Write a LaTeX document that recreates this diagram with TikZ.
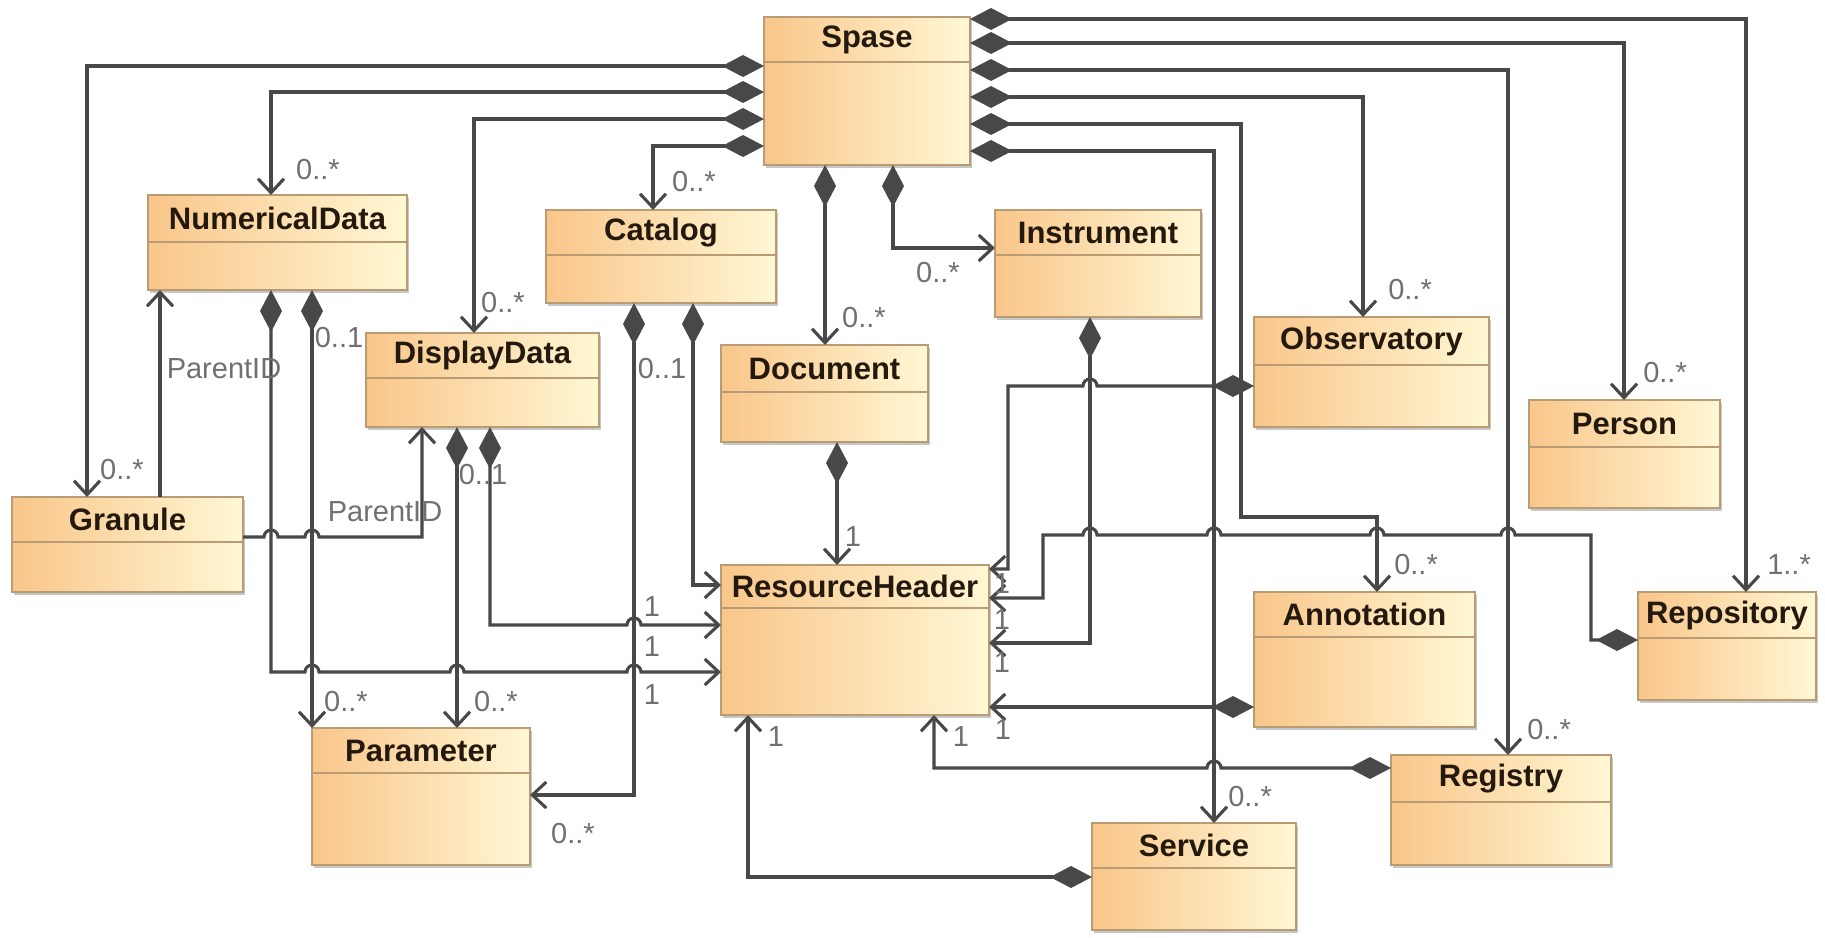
\documentclass[tikz,border=0pt]{standalone}
\usepackage{fontspec}
\setmainfont{Liberation Sans}
\usetikzlibrary{arrows.meta,shadows}

\definecolor{boxL}{RGB}{249,198,138}
\definecolor{boxR}{RGB}{255,247,212}
\definecolor{boxEdge}{RGB}{186,156,116}
\definecolor{wire}{RGB}{72,72,72}
\definecolor{multc}{RGB}{112,112,112}
\definecolor{titlec}{RGB}{36,25,14}

% hop over a vertical wire at x=#1 on a horizontal run at y=#2
\newcommand\hopr[2]{-- ({#1-7},#2) arc[start angle=180,end angle=360,radius=7]}
\newcommand\hopl[2]{-- ({#1+7},#2) arc[start angle=0,end angle=-180,radius=7]}

% class box: name, x1, y1, x2, y2, divider y, title
\newcommand\umlclass[7]{%
  \node[classbox, minimum width={(#4-#2)*1pt}, minimum height={(#5-#3)*1pt}] (#1) at (#2,#3) {};
  \draw[boxEdge, line width=1.3pt] (#1.west |- 0,#6) -- (#1.east |- 0,#6);
  \node[classtitle] (#1-title) at ({(#2+#4)/2},{(#3+#6)/2}) {#7};
}
% multiplicity / role label
\newcommand\multlabel[4]{\node[mult] (#1) at (#2,#3) {#4};}

\begin{document}
\begin{tikzpicture}[x=1pt,y=-1pt,
  classbox/.style={rectangle, draw=boxEdge, line width=1.5pt,
    left color=boxL, right color=boxR, anchor=north west,
    inner sep=0pt, outer sep=0pt,
    drop shadow={shadow xshift=2pt,shadow yshift=-2.5pt,fill=black,opacity=0.22}},
  classtitle/.style={font=\fontsize{31}{36}\selectfont\bfseries, text=titlec, inner sep=0pt},
  mult/.style={font=\fontsize{29}{32}\selectfont, text=multc, inner sep=0pt},
  wireline/.style={draw=wire, line width=3.1pt, line join=miter},
  comp/.style={wireline, {Diamond[length=42pt,width=22pt]}-{Straight Barb[length=14pt,width=26pt]}},
  assoc/.style={wireline, -{Straight Barb[length=14pt,width=26pt]}}
]
\fill[white] (0,0) rectangle (1825,937);
\useasboundingbox (0,0) rectangle (1825,937);

% classes
\umlclass{spase}{764}{17}{970}{165}{62}{Spase}
\umlclass{numdata}{148}{195}{407}{290}{242}{NumericalData}
\umlclass{catalog}{546}{210}{776}{303}{255}{Catalog}
\umlclass{instrument}{995}{210}{1201}{317}{255}{Instrument}
\umlclass{display}{366}{333}{599}{427}{378}{DisplayData}
\umlclass{document}{721}{345}{928}{442}{392}{Document}
\umlclass{observatory}{1254}{317}{1489}{427}{365}{Observatory}
\umlclass{person}{1529}{400}{1720}{508}{447}{Person}
\umlclass{granule}{12}{497}{243}{592}{542}{Granule}
\umlclass{resource}{721}{565}{989}{715}{608}{ResourceHeader}
\umlclass{annotation}{1254}{592}{1475}{727}{637}{Annotation}
\umlclass{repository}{1638}{592}{1816}{700}{638}{Repository}
\umlclass{parameter}{312}{728}{530}{865}{773}{Parameter}
\umlclass{registry}{1391}{755}{1611}{865}{802}{Registry}
\umlclass{service}{1092}{823}{1296}{930}{868}{Service}

% Spase, left side
\draw[comp] (spase.west |- 0,66) -- (87,66) -- (granule.north -| 87,0);
\draw[comp] (spase.west |- 0,92) -- (271,92) -- (numdata.north -| 271,0);
\draw[comp] (spase.west |- 0,119) -- (474,119) -- (display.north -| 474,0);
\draw[comp] (spase.west |- 0,146) -- (653,146) -- (catalog.north -| 653,0);

% Spase, right side
\draw[comp] (spase.east |- 0,19) -- (1746,19) -- (repository.north -| 1746,0);
\draw[comp] (spase.east |- 0,43) -- (1624,43) -- (person.north -| 1624,0);
\draw[comp] (spase.east |- 0,70) -- (1508,70) -- (registry.north -| 1508,0);
\draw[comp] (spase.east |- 0,97) -- (1363,97) -- (observatory.north -| 1363,0);
\draw[comp] (spase.east |- 0,124) -- (1241,124) -- (1241,517) -- (1377,517) -- (annotation.north -| 1377,0);
\draw[comp] (spase.east |- 0,151) -- (1214,151) -- (service.north -| 1214,0);

% Spase, bottom
\draw[comp] (spase.south -| 825,0) -- (document.north -| 825,0);
\draw[comp] (spase.south -| 893,0) -- (893,248) -- (instrument.west |- 0,248);

% NumericalData
\draw[comp] (numdata.south -| 271,0) -- (271,672) \hopr{312}{672} \hopr{457}{672} \hopr{634}{672} -- (resource.west |- 0,672);
\draw[comp] (numdata.south -| 312,0) -- (parameter.north -| 312,0);

% Granule
\draw[assoc] (granule.north -| 160,0) -- (numdata.south -| 160,0);
\draw[assoc] (granule.east |- 0,537) \hopr{271}{537} \hopr{312}{537} -- (422,537) -- (display.south -| 422,0);

% DisplayData
\draw[comp] (display.south -| 457,0) -- (parameter.north -| 457,0);
\draw[comp] (display.south -| 490,0) -- (490,625) \hopr{634}{625} -- (resource.west |- 0,625);

% Catalog
\draw[comp] (catalog.south -| 634,0) -- (634,795) -- (parameter.east |- 0,795);
\draw[comp] (catalog.south -| 693,0) -- (693,585) -- (resource.west |- 0,585);

% Document
\draw[comp] (document.south -| 837,0) -- (resource.north -| 837,0);

% Instrument
\draw[comp] (instrument.south -| 1090,0) -- (1090,643) -- (resource.east |- 0,643);

% Observatory
\draw[comp] (observatory.west |- 0,386) \hopl{1090}{386} -- (1008,386) -- (1008,569) -- (resource.east |- 0,569);

% Repository
\draw[comp] (repository.west |- 0,640) -- (1591,640) -- (1591,535) \hopl{1508}{535} \hopl{1377}{535} \hopl{1214}{535} \hopl{1090}{535} -- (1043,535) -- (1043,598) -- (resource.east |- 0,598);

% Annotation
\draw[comp] (annotation.west |- 0,707) -- (resource.east |- 0,707);

% Registry
\draw[comp] (registry.west |- 0,768) \hopl{1214}{768} -- (934,768) -- (resource.south -| 934,0);

% Service
\draw[comp] (service.west |- 0,877) -- (748,877) -- (resource.south -| 748,0);

% multiplicities and roles
\multlabel{mGranule}{122}{470}{0..*}
\multlabel{mNum}{318}{170}{0..*}
\multlabel{mDisp}{503}{303}{0..*}
\multlabel{mCat}{694}{182}{0..*}
\multlabel{mDoc}{864}{318}{0..*}
\multlabel{mInst}{938}{273}{0..*}
\multlabel{mObs}{1410}{290}{0..*}
\multlabel{mPerson}{1665}{373}{0..*}
\multlabel{mRepo}{1789}{565}{1..*}
\multlabel{mAnn}{1416}{565}{0..*}
\multlabel{mReg}{1549}{730}{0..*}
\multlabel{mServ}{1250}{797}{0..*}
\multlabel{pidA}{224}{369}{ParentID}
\multlabel{pidB}{385}{512}{ParentID}
\multlabel{mNumP}{339}{338}{0..1}
\multlabel{mDispR}{483}{475}{0..1}
\multlabel{mCatP}{662}{369}{0..1}
\multlabel{mDocR}{853}{537}{1}
\multlabel{mRhA}{652}{607}{1}
\multlabel{mRhB}{652}{647}{1}
\multlabel{mRhC}{652}{695}{1}
\multlabel{mParA}{346}{702}{0..*}
\multlabel{mParB}{496}{702}{0..*}
\multlabel{mParC}{573}{834}{0..*}
\multlabel{mRhServ}{776}{737}{1}
\multlabel{mRhReg}{961}{737}{1}
\multlabel{mRhObs}{1002}{584}{1}
\multlabel{mRhRepo}{1002}{620}{1}
\multlabel{mRhInst}{1002}{663}{1}
\multlabel{mRhAnn}{1003}{730}{1}
\end{tikzpicture}
\end{document}
